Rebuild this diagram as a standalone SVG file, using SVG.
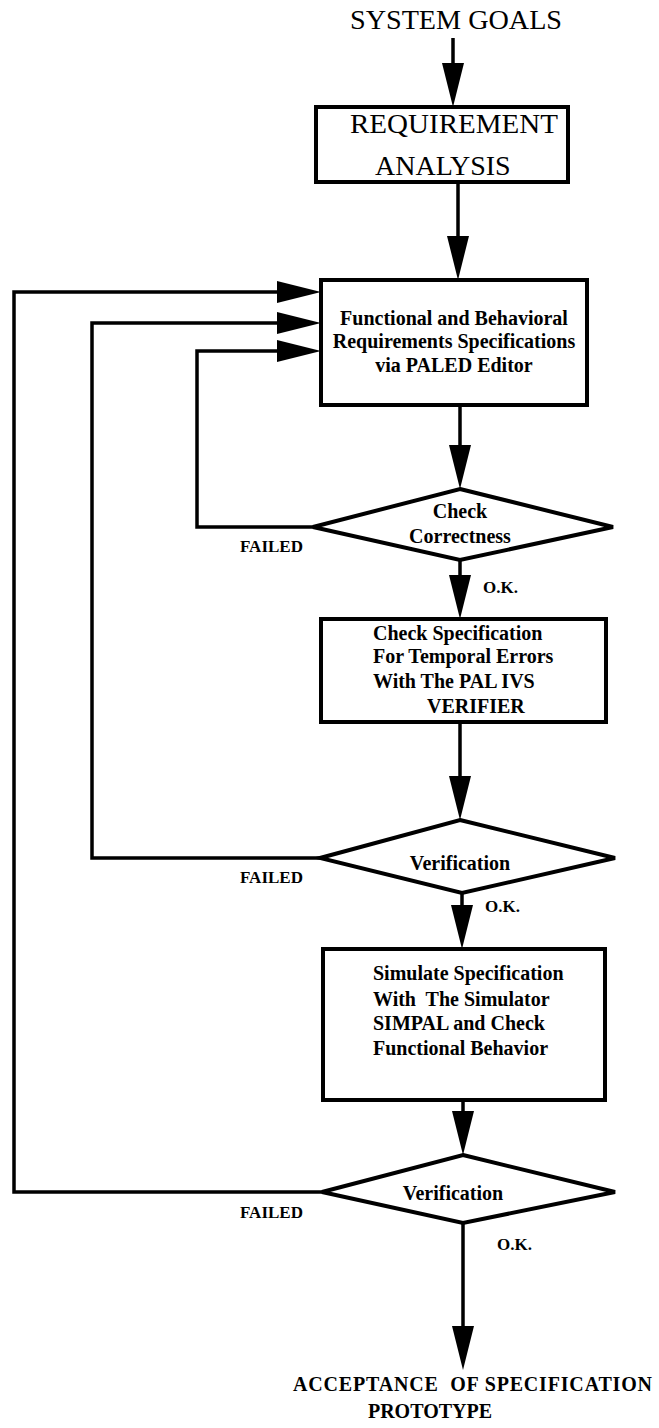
<svg xmlns="http://www.w3.org/2000/svg" width="659" height="1428" viewBox="0 0 659 1428">
  <style>
    .bg { fill: #ffffff; }
    .box { fill: #ffffff; stroke: #000; stroke-width: 4; }
    .dec { fill: #ffffff; stroke: #000; stroke-width: 4; stroke-linejoin: miter; }
    .wire { fill: none; stroke: #000; stroke-width: 3.5; }
    .t { font-family: "Liberation Serif", "Times New Roman", serif; fill: #000; }
    .big { font-size: 28px; }
    .lbl { font-size: 20px; font-weight: bold; }
    .small { font-size: 17px; font-weight: bold; }
    .mid { text-anchor: middle; }
  </style>
  <defs>
    <marker id="head" markerUnits="userSpaceOnUse" markerWidth="44" markerHeight="22" refX="24" refY="11" orient="auto" overflow="visible">
      <path d="M0,0 L44,11 L0,22 Z" fill="#000"/>
    </marker>
  </defs>
  <rect class="bg" x="0" y="0" width="659" height="1428"/>

  <!-- connectors -->
  <g id="connectors">
    <path class="wire" d="M453,38 V87" marker-end="url(#head)"/>
    <path class="wire" d="M458,182 V260" marker-end="url(#head)"/>
    <path class="wire" d="M460,405 V469" marker-end="url(#head)"/>
    <path class="wire" d="M460,560 V599" marker-end="url(#head)"/>
    <path class="wire" d="M460,722 V800" marker-end="url(#head)"/>
    <path class="wire" d="M462,893 V929" marker-end="url(#head)"/>
    <path class="wire" d="M463,1100 V1135" marker-end="url(#head)"/>
    <path class="wire" d="M463,1223 V1350" marker-end="url(#head)"/>
    <!-- failure loops back to the editor -->
    <path class="wire" d="M313,527 H197 V351 H301" marker-end="url(#head)"/>
    <path class="wire" d="M320,858 H92 V323 H301" marker-end="url(#head)"/>
    <path class="wire" d="M322,1192 H14 V292 H301" marker-end="url(#head)"/>
  </g>

  <g id="goals">
    <text class="t big" x="350" y="29" textLength="212" lengthAdjust="spacingAndGlyphs">SYSTEM GOALS</text>
  </g>

  <g id="analysis">
    <rect class="box" x="316" y="107" width="252" height="75"/>
    <text class="t big" x="350" y="133" textLength="208" lengthAdjust="spacingAndGlyphs">REQUIREMENT</text>
    <text class="t big" x="375" y="175">ANALYSIS</text>
  </g>

  <g id="spec-editor">
    <rect class="box" x="321" y="280" width="266" height="125"/>
    <text class="t lbl mid" x="454" y="325">Functional and Behavioral</text>
    <text class="t lbl mid" x="454" y="348">Requirements Specifications</text>
    <text class="t lbl mid" x="454" y="372">via PALED Editor</text>
  </g>

  <g id="check-correctness">
    <polygon class="dec" points="460,489 613,527 460,560 313,527"/>
    <text class="t lbl mid" x="460" y="518">Check</text>
    <text class="t lbl mid" x="460" y="543">Correctness</text>
    <text class="t small" x="240" y="552">FAILED</text>
    <text class="t small" x="483" y="593">O.K.</text>
  </g>

  <g id="temporal-check">
    <rect class="box" x="321" y="619" width="285" height="103"/>
    <text class="t lbl" x="373" y="640">Check Specification</text>
    <text class="t lbl" x="373" y="663">For Temporal Errors</text>
    <text class="t lbl" x="373" y="688">With The PAL IVS</text>
    <text class="t lbl" x="427" y="713">VERIFIER</text>
  </g>

  <g id="verification-1">
    <polygon class="dec" points="460,820 615,858 462,893 320,858"/>
    <text class="t lbl mid" x="460" y="870">Verification</text>
    <text class="t small" x="240" y="883">FAILED</text>
    <text class="t small" x="485" y="912">O.K.</text>
  </g>

  <g id="simulation">
    <rect class="box" x="323" y="949" width="282" height="151"/>
    <text class="t lbl" x="373" y="980">Simulate Specification</text>
    <text class="t lbl" x="373" y="1006" style="white-space:pre">With  The Simulator</text>
    <text class="t lbl" x="373" y="1030">SIMPAL and Check</text>
    <text class="t lbl" x="373" y="1055">Functional Behavior</text>
  </g>

  <g id="verification-2">
    <polygon class="dec" points="463,1155 615,1192 463,1223 322,1192"/>
    <text class="t lbl mid" x="453" y="1200">Verification</text>
    <text class="t small" x="240" y="1218">FAILED</text>
    <text class="t small" x="497" y="1250">O.K.</text>
  </g>

  <g id="acceptance">
    <text class="t lbl" x="293" y="1391" style="white-space:pre" textLength="359">ACCEPTANCE  OF SPECIFICATION</text>
    <text class="t lbl mid" x="430" y="1418">PROTOTYPE</text>
  </g>
</svg>
